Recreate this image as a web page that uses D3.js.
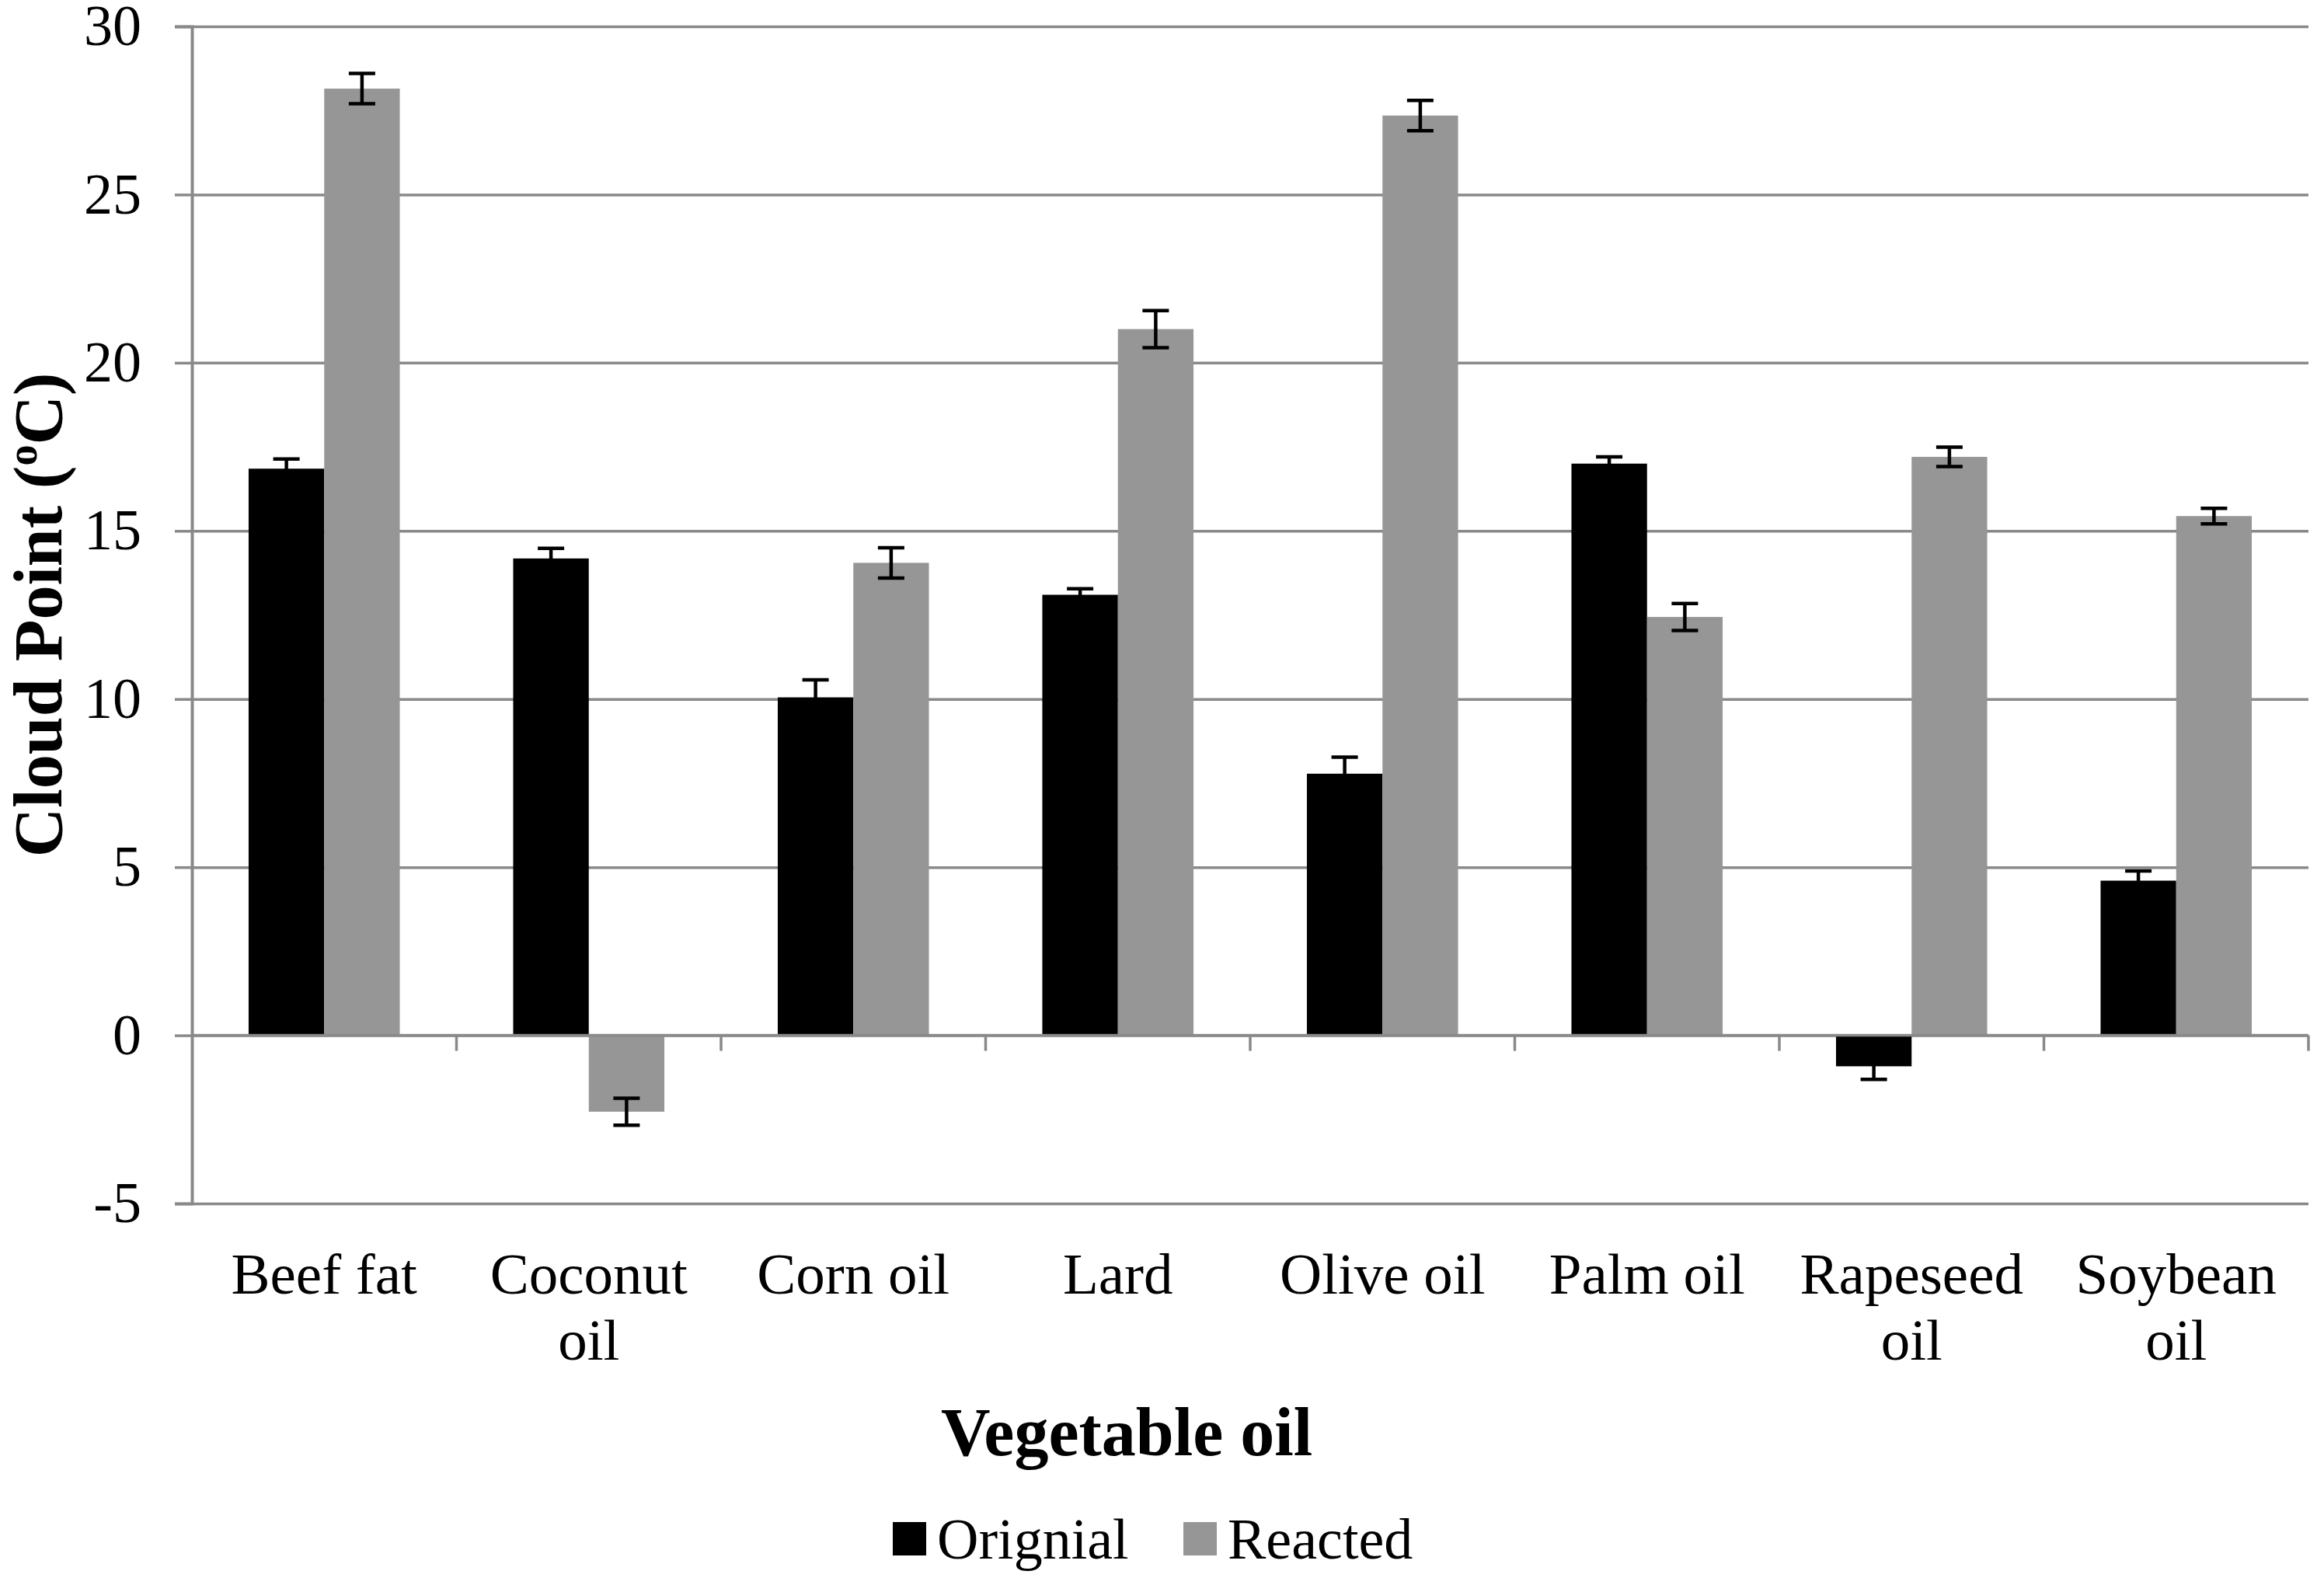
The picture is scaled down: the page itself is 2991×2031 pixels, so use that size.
<!DOCTYPE html>
<html>
<head>
<meta charset="utf-8">
<script src="https://cdn.jsdelivr.net/npm/d3@7"></script>
<style>
  html, body { margin: 0; padding: 0; background: #fff; }
  svg { display: block; }
</style>
</head>
<body>
<svg id="chart" width="2991" height="2031"></svg>
<script>
// ---------------- data ----------------
const categories = ["Beef fat", "Coconut oil", "Corn oil", "Lard", "Olive oil", "Palm oil", "Rapeseed oil", "Soybean oil"];
const categoryLabels = [["Beef fat"], ["Coconut", "oil"], ["Corn oil"], ["Lard"], ["Olive oil"], ["Palm oil"], ["Rapeseed", "oil"], ["Soybean", "oil"]];
const seriesNames = ["Orignial", "Reacted"];
const originalValues = [16.85, 14.18, 10.05, 13.1, 7.78, 17.0, -0.92, 4.6];
const originalErrors = [0.29, 0.3, 0.52, 0.18, 0.49, 0.2, 0.39, 0.29];
const reactedValues = [28.15, -2.27, 14.05, 21.0, 27.35, 12.44, 17.2, 15.44];
const reactedErrors = [0.45, 0.4, 0.45, 0.55, 0.45, 0.4, 0.29, 0.23];
const yTickValues = [-5, 0, 5, 10, 15, 20, 25, 30];
const yTickLabels = ["-5", "0", "5", "10", "15", "20", "25", "30"];
const yTitle = "Cloud Point (";
const xTitle = "Vegetable oil";

// ---------------- layout ----------------
const svg = d3.select("#chart");
const plot = { left: 247, right: 2971, top: 34, bottom: 1549 };
const serif = "'Liberation Serif', 'Times New Roman', Times, serif";
const gridColor = "#898989";
const colors = ["#000000", "#969696"];

const x0 = d3.scaleBand().domain(categories).range([plot.left, plot.right]).paddingInner(0).paddingOuter(0);
const x1 = d3.scaleBand().domain(seriesNames).range([0, x0.bandwidth()]).paddingInner(0).paddingOuter(0.75);
const y = d3.scaleLinear().domain([-5, 30]).range([plot.bottom, plot.top]);

const data = categories.map((c, i) => ({
  cat: c,
  vals: [
    { s: seriesNames[0], v: originalValues[i], e: originalErrors[i] },
    { s: seriesNames[1], v: reactedValues[i], e: reactedErrors[i] }
  ]
}));

// gridlines
svg.append("g")
  .attr("transform", `translate(${plot.left},0)`)
  .call(d3.axisLeft(y).tickValues(yTickValues).tickSize(-(plot.right - plot.left)).tickFormat(""))
  .call(g => g.select(".domain").remove())
  .call(g => g.selectAll(".tick line").attr("stroke", gridColor).attr("stroke-width", 3.5));

// bars
const groups = svg.append("g").selectAll("g").data(data).join("g")
  .attr("transform", d => `translate(${x0(d.cat)},0)`);

groups.selectAll("rect").data(d => d.vals).join("rect")
  .attr("x", d => x1(d.s))
  .attr("width", x1.bandwidth())
  .attr("y", d => y(Math.max(0, d.v)))
  .attr("height", d => Math.abs(y(d.v) - y(0)))
  .attr("fill", (d, i) => colors[i]);

// y axis (ticks + labels)
svg.append("g")
  .attr("transform", `translate(${plot.left},0)`)
  .call(d3.axisLeft(y).tickValues(yTickValues).tickSize(22).tickPadding(43)
    .tickFormat((d, i) => yTickLabels[i]))
  .call(g => g.select(".domain").attr("stroke", gridColor).attr("stroke-width", 4))
  .call(g => g.selectAll(".tick line").attr("stroke", gridColor).attr("stroke-width", 3.5))
  .call(g => g.selectAll(".tick text").attr("font-family", serif).attr("font-size", 74).attr("fill", "#000"));

// x axis line at zero and category ticks
const xAxisG = svg.append("g");
xAxisG.append("line")
  .attr("x1", plot.left).attr("x2", plot.right)
  .attr("y1", y(0)).attr("y2", y(0))
  .attr("stroke", gridColor).attr("stroke-width", 3.5);
xAxisG.selectAll("line.ctick").data(categories).join("line")
  .attr("class", "ctick")
  .attr("x1", d => x0(d) + x0.bandwidth()).attr("x2", d => x0(d) + x0.bandwidth())
  .attr("y1", y(0)).attr("y2", y(0) + 20)
  .attr("stroke", gridColor).attr("stroke-width", 3.5);

// error bars
const cap = 17;
groups.each(function(d) {
  const g = d3.select(this);
  d.vals.forEach(v => {
    const cx = x1(v.s) + x1.bandwidth() / 2;
    const eg = g.append("g").attr("stroke", "#000").attr("stroke-width", 4.5);
    eg.append("line").attr("x1", cx).attr("x2", cx).attr("y1", y(v.v + v.e)).attr("y2", y(v.v - v.e));
    eg.append("line").attr("x1", cx - cap).attr("x2", cx + cap).attr("y1", y(v.v + v.e)).attr("y2", y(v.v + v.e));
    eg.append("line").attr("x1", cx - cap).attr("x2", cx + cap).attr("y1", y(v.v - v.e)).attr("y2", y(v.v - v.e));
  });
});

// category labels
const catG = svg.append("g");
data.forEach((d, i) => {
  const cx = x0(d.cat) + x0.bandwidth() / 2;
  const t = catG.append("text")
    .attr("x", cx).attr("y", 1665)
    .attr("text-anchor", "middle")
    .attr("font-family", serif).attr("font-size", 75).attr("fill", "#000");
  categoryLabels[i].forEach((line, j) => {
    t.append("tspan").attr("x", cx).attr("dy", j === 0 ? 0 : 85).text(line);
  });
});

// axis titles
svg.append("text")
  .attr("x", 1450).attr("y", 1873)
  .attr("text-anchor", "middle")
  .attr("font-family", serif).attr("font-size", 88).attr("font-weight", "bold")
  .text(xTitle);

const yt = svg.append("text")
  .attr("transform", `translate(79,${(plot.top + plot.bottom) / 2}) rotate(-90)`)
  .attr("text-anchor", "middle")
  .attr("font-family", serif).attr("font-size", 88).attr("font-weight", "bold");
yt.append("tspan").text(yTitle);
yt.append("tspan").attr("font-size", 54).attr("dy", -32).text("o");
yt.append("tspan").attr("dy", 32).text("C)");

// legend
const legendItems = [
  { name: seriesNames[0], color: colors[0], x: 1149 },
  { name: seriesNames[1], color: colors[1], x: 1523 }
];
const lg = svg.append("g");
legendItems.forEach(it => {
  lg.append("rect").attr("x", it.x).attr("y", 1959).attr("width", 43).attr("height", 43).attr("fill", it.color);
  lg.append("text").attr("x", it.x + 57).attr("y", 2006)
    .attr("font-family", serif).attr("font-size", 74).attr("fill", "#000").text(it.name);
});
</script>
</body>
</html>
